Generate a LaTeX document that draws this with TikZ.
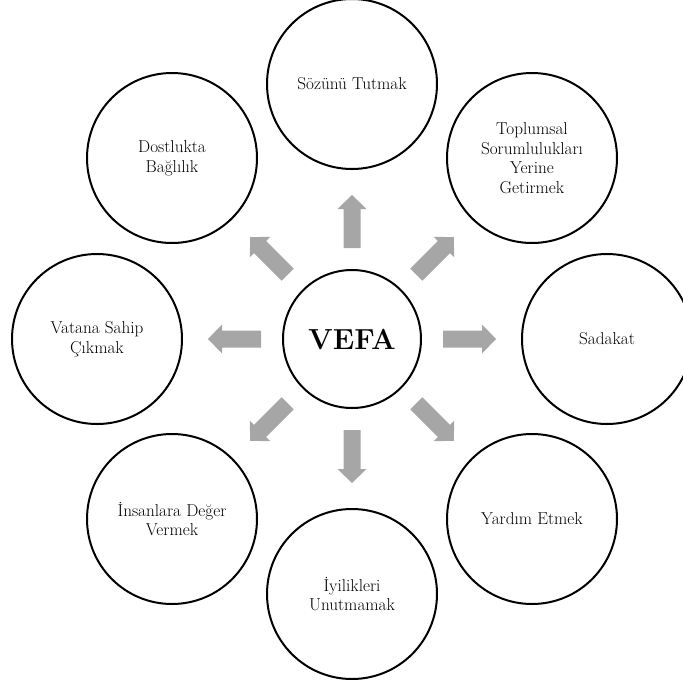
\documentclass[tikz,border=0pt]{standalone}
\usepackage{fontspec}
\begin{document}
\begin{tikzpicture}[x=1pt,y=-1pt,
  outer/.style={circle,draw=black,line width=2pt,minimum size=170pt,inner sep=0pt,align=center,font=\fontsize{17.2}{19.6}\selectfont},
  hub/.style={circle,draw=black,line width=2pt,minimum size=138pt,inner sep=0pt,font=\fontsize{29}{34}\selectfont\bfseries},
  blockarrow/.style={fill=black!35,draw=none}]
\useasboundingbox (0,0) rectangle (683,683);
\clip (0,0) rectangle (683,683);
\node[hub] (c) at (352,339) {VEFA};
\node[outer] (n1) at (352,84) {Sözünü Tutmak};
\node[outer] (n2) at (532,158) {Toplumsal\\Sorumlulukları\\Yerine\\Getirmek};
\node[outer] (n3) at (607,339) {Sadakat};
\node[outer] (n4) at (532,519) {Yardım Etmek};
\node[outer] (n5) at (352,594) {İyilikleri\\Unutmamak};
\node[outer] (n6) at (172,519) {İnsanlara Değer\\Vermek};
\node[outer] (n7) at (97,339) {Vatana Sahip\\Çıkmak};
\node[outer] (n8) at (172,158) {Dostlukta\\Bağlılık};
\foreach \a in {0,45,...,315}{
  \fill[blockarrow,shift={(c.center)},rotate=\a]
    (91,-8.5) -- (130,-8.5) -- (130,-14.5) -- (144,0) -- (130,14.5) -- (130,8.5) -- (91,8.5) -- cycle;
}
\end{tikzpicture}
\end{document}
